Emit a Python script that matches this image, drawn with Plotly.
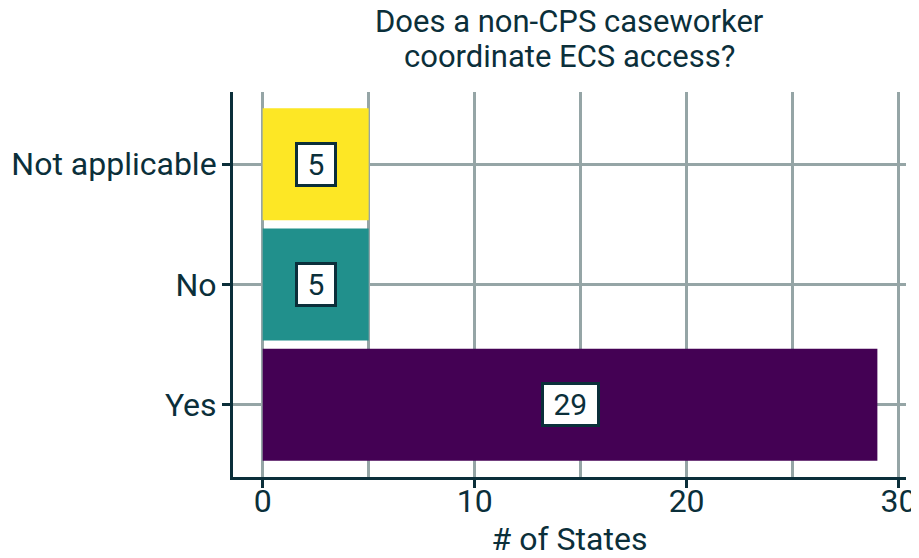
import plotly.graph_objects as go

categories = ["Yes", "No", "Not applicable"]
states = [29, 5, 5]
bar_colors = ["#440154", "#21908C", "#FDE725"]
title_lines = ["Does a non-CPS caseworker", "coordinate ECS access?"]

ink = "#0B2F3A"
grid = "#95A5A6"

fig = go.Figure()
fig.add_trace(go.Bar(x=states, y=categories, orientation="h",
                     marker=dict(color=bar_colors, line=dict(width=0)),
                     width=0.93, hoverinfo="skip"))

# value labels in boxes at the bar middles
for cat, val in zip(categories, states):
    fig.add_annotation(x=val / 2, y=cat, text="&nbsp;" + str(val) + "&nbsp;", showarrow=False,
                       font=dict(size=30, color=ink, family="Roboto"),
                       bgcolor="white", bordercolor=ink, borderwidth=3, borderpad=2)

# title as two lines (tighter spacing than plotly's <br>)
for line, yy in zip(title_lines, [1.182, 1.091]):
    fig.add_annotation(text=line, xref="paper", yref="paper", x=0.5, y=yy,
                       xanchor="center", yanchor="middle", showarrow=False,
                       font=dict(size=31, color=ink, family="Roboto"))

# page body has an 8px margin; automargin off so the plot area keeps its size
fig.update_layout(
    width=911, height=550,
    margin=dict(l=225, r=13, t=84, b=81),
    plot_bgcolor="white", paper_bgcolor="white",
    font=dict(family="Roboto", color=ink, size=26),
    showlegend=False,
    xaxis=dict(range=[-1.4, 30.35], tickvals=[0, 10, 20, 30], automargin=False,
               showgrid=True, gridcolor=grid, gridwidth=3,
               minor=dict(tickvals=[5, 15, 25], showgrid=True, gridcolor=grid, gridwidth=3),
               showline=True, linecolor=ink, linewidth=3,
               ticks="outside", ticklen=8, tickwidth=3, tickcolor=ink,
               ticklabelstandoff=-14,
               zeroline=False, title=dict(text="# of States", standoff=11, font=dict(size=32)),
               tickfont=dict(size=32)),
    yaxis=dict(range=[-0.6, 2.6], automargin=False,
               showgrid=True, gridcolor=grid, gridwidth=3,
               showline=True, linecolor=ink, linewidth=3,
               ticks="outside", ticklen=8, tickwidth=3, tickcolor=ink,
               ticklabelstandoff=-1,
               tickfont=dict(size=32)),
)

fig.write_html("out.html")
